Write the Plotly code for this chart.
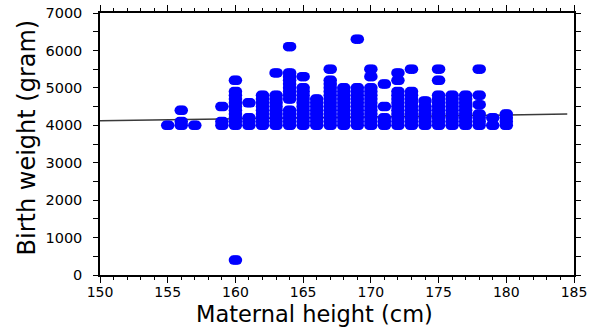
import plotly.graph_objects as go

# Maternal height (cm) for each column of points and the birth weights (g) read in that column
col_heights = [155, 156, 157, 159, 160, 161, 162, 163, 164, 165, 166, 167, 168,
               169, 170, 171, 172, 173, 174, 175, 176, 177, 178, 179, 180]
col_weights = [
    [4000],
    [4000, 4100, 4400],
    [4000],
    [4000, 4100, 4500],
    [400, 4000, 4100, 4200, 4300, 4400, 4500, 4600, 4700, 4800, 4900, 5200],
    [4000, 4100, 4200, 4600],
    [4000, 4100, 4200, 4300, 4400, 4500, 4600, 4700, 4800],
    [4000, 4100, 4200, 4300, 4400, 4500, 4600, 4700, 4800, 5400],
    [4000, 4100, 4200, 4300, 4400, 4700, 4800, 4900, 5000, 5100, 5200, 5300, 5400, 6100],
    [4000, 4100, 4200, 4300, 4400, 4500, 4600, 4700, 4800, 4900, 5000, 5300],
    [4000, 4100, 4200, 4300, 4400, 4500, 4600, 4700],
    [4000, 4100, 4200, 4300, 4400, 4500, 4600, 4700, 4800, 4900, 5000, 5100, 5200, 5500],
    [4000, 4100, 4200, 4300, 4400, 4500, 4600, 4700, 4800, 4900, 5000],
    [4000, 4100, 4200, 4300, 4400, 4500, 4600, 4700, 4800, 4900, 5000, 6300],
    [4000, 4100, 4200, 4300, 4400, 4500, 4600, 4700, 4800, 4900, 5000, 5300, 5500],
    [4000, 4100, 4200, 4500, 5100],
    [4000, 4100, 4200, 4300, 4400, 4500, 4600, 4700, 4800, 4900, 5200, 5400],
    [4000, 4100, 4200, 4300, 4400, 4500, 4600, 4700, 4800, 4900, 5500],
    [4000, 4100, 4200, 4300, 4400, 4500, 4650],
    [4000, 4100, 4200, 4300, 4400, 4500, 4600, 4700, 4800, 5200, 5500],
    [4000, 4100, 4200, 4300, 4400, 4500, 4600, 4700, 4800],
    [4000, 4100, 4200, 4300, 4400, 4500, 4600, 4700, 4800],
    [4000, 4100, 4200, 4300, 4550, 4800, 5500],
    [4000, 4200],
    [4000, 4100, 4200, 4300],
]

# Fitted regression line (endpoints as drawn)
fit_heights = [150, 184.5]
fit_weights = [4120, 4300]

x_ticks = [150, 155, 160, 165, 170, 175, 180, 185]
y_ticks = [0, 1000, 2000, 3000, 4000, 5000, 6000, 7000]

x_title = "Maternal height (cm)"
y_title = "Birth weight (gram)"

X_RANGE = [150, 185]
Y_RANGE = [0, 7000]

heights = []
weights = []
for h, ws in zip(col_heights, col_weights):
    for w in ws:
        heights.append(h)
        weights.append(w)

FONT = "DejaVu Sans, Liberation Sans, Arial, sans-serif"
BLUE = "#0000ff"
W, H = 600, 328
ML, MR, MT, MB = 100, 26, 13, 53
plot_w_px = W - ML - MR
plot_h_px = H - MT - MB

fig = go.Figure()
fig.add_trace(go.Scatter(
    x=fit_heights, y=fit_weights, mode="lines",
    line=dict(color="#3a3a3a", width=1.5), showlegend=False, hoverinfo="skip"))

# Markers drawn as horizontal ellipses: the same points through three
# overlaid x scales whose ranges differ by about two pixels.
shift = 2.0 * (X_RANGE[1] - X_RANGE[0]) / plot_w_px
for ax in ["x", "x2", "x3"]:
    fig.add_trace(go.Scatter(
        x=heights, y=weights, mode="markers", xaxis=ax,
        marker=dict(symbol="circle", size=9.5, color=BLUE, line=dict(width=0)),
        showlegend=False))

axis_common = dict(
    showline=True, linecolor="black", linewidth=1.5, mirror="allticks",
    ticks="outside", tickwidth=1.3, tickcolor="black",
    showgrid=False, zeroline=False, automargin=False,
)

fig.update_layout(
    width=W, height=H,
    margin=dict(l=ML, r=MR, t=MT, b=MB),
    paper_bgcolor="white", plot_bgcolor="white",
    xaxis=dict(
        range=X_RANGE, tickvals=x_ticks, ticktext=[str(v) for v in x_ticks], ticklen=6,
        ticklabelstandoff=-3,
        tickfont=dict(family=FONT, size=14, color="black"),
        minor=dict(dtick=1, ticks="outside", ticklen=3, tickwidth=1.2, tickcolor="black", showgrid=False),
        **axis_common),
    xaxis2=dict(range=[X_RANGE[0] + shift, X_RANGE[1] + shift], overlaying="x",
                visible=False, automargin=False),
    xaxis3=dict(range=[X_RANGE[0] - shift, X_RANGE[1] - shift], overlaying="x",
                visible=False, automargin=False),
    yaxis=dict(
        range=Y_RANGE, tickvals=y_ticks, ticktext=[str(v) for v in y_ticks], ticklen=5,
        ticklabelstandoff=8,
        tickfont=dict(family=FONT, size=14.5, color="black"),
        minor=dict(dtick=500, ticks="outside", ticklen=3, tickwidth=1.2, tickcolor="black", showgrid=False),
        **axis_common),
    annotations=[
        dict(text=x_title, xref="paper", yref="paper",
             x=(314 - ML) / plot_w_px, y=-(313.5 - (MT + plot_h_px)) / plot_h_px,
             xanchor="center", yanchor="middle", showarrow=False,
             font=dict(family=FONT, size=22.5, color="black")),
        dict(text=y_title, xref="paper", yref="paper", textangle=-90,
             x=(26 - ML) / plot_w_px, y=(MT + plot_h_px - 137.5) / plot_h_px,
             xanchor="center", yanchor="middle", showarrow=False,
             font=dict(family=FONT, size=24, color="black")),
    ],
)

fig.write_html("out.html", config={"displayModeBar": False},
               post_script="document.body.style.margin='0';document.body.style.overflow='hidden';")
